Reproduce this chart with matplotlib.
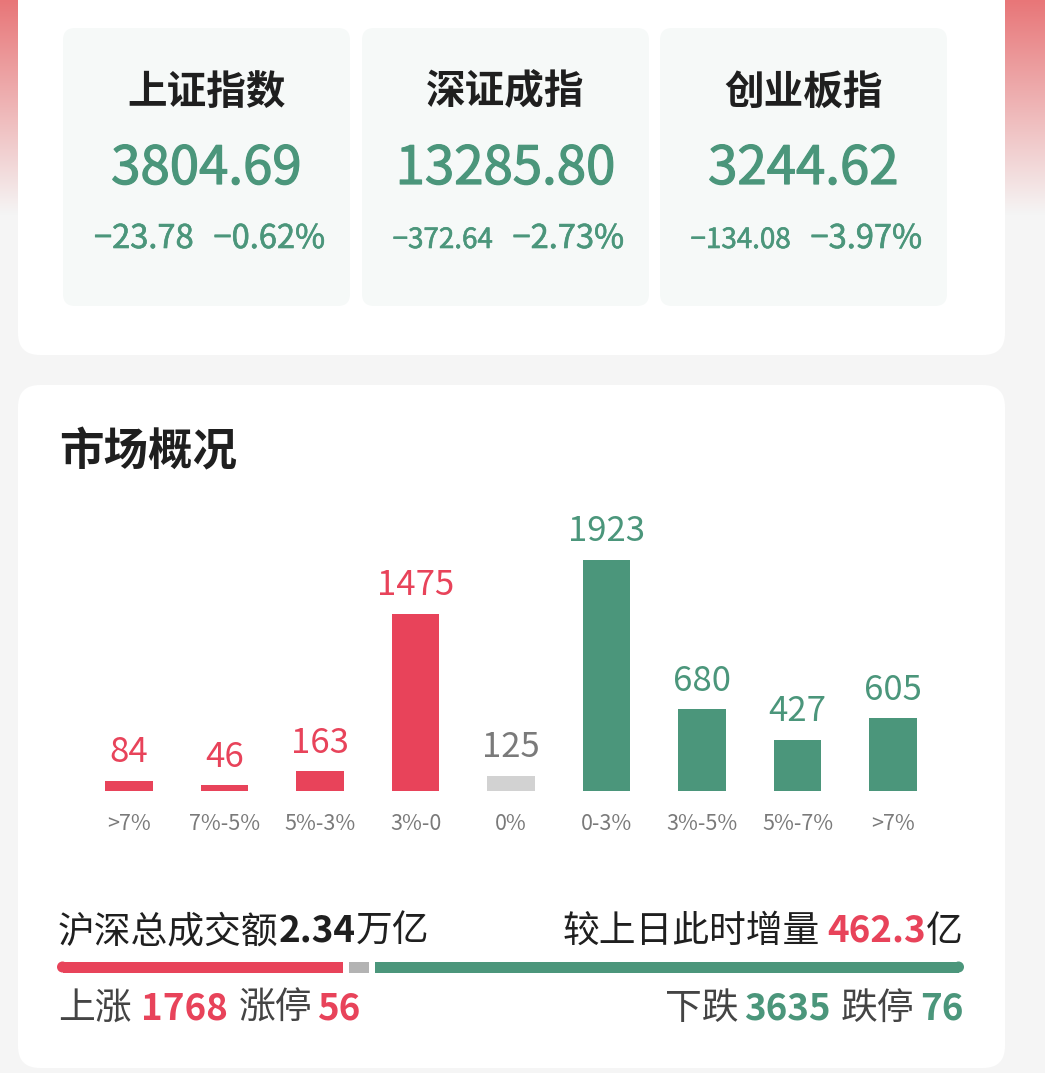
import matplotlib
matplotlib.use('Agg')
import matplotlib.pyplot as plt
from matplotlib.patches import FancyBboxPatch, Rectangle, Circle
import matplotlib.patheffects as pe
import numpy as np

plt.rcParams['font.family'] = ['Noto Sans CJK SC', 'DejaVu Sans']

# ---------------- data ----------------
index_names = ['上证指数', '深证成指', '创业板指']
index_values = ['3804.69', '13285.80', '3244.62']
index_changes = ['−23.78', '−372.64', '−134.08']
index_pcts = ['−0.62%', '−2.73%', '−3.97%']

categories = ['>7%', '7%-5%', '5%-3%', '3%-0', '0%', '0-3%', '3%-5%', '5%-7%', '>7%']
counts = [84, 46, 163, 1475, 125, 1923, 680, 427, 605]
kinds = ['up', 'up', 'up', 'up', 'flat', 'down', 'down', 'down', 'down']

turnover = '2.34'
increase = '462.3'
up_total = 1768
limit_up = 56
flat_total = 125
down_total = 3635
limit_down = 76

# ---------------- style ----------------
W, H, DPI = 1045, 1073, 100
RED = '#e8435a'
GREEN = '#4b967b'
GRAY_BAR = '#d2d2d2'
GRAY_TXT = '#7a7a7a'
DARK = '#1f1f1f'
BG = '#f5f5f5'
color_map = {'up': RED, 'flat': GRAY_BAR, 'down': GREEN}
label_color = {'up': RED, 'flat': GRAY_TXT, 'down': GREEN}
thick = [pe.withStroke(linewidth=0.9, foreground=GREEN)]
thin = [pe.withStroke(linewidth=0.45, foreground=GREEN)]

fig = plt.figure(figsize=(W / DPI, H / DPI), dpi=DPI)
fig.patch.set_facecolor(BG)
bg = fig.add_axes([0, 0, 1, 1])
bg.set_xlim(0, W)
bg.set_ylim(H, 0)
bg.axis('off')

# top gradient
top_c = np.array([232, 118, 120]) / 255
bot_c = np.array([245, 245, 245]) / 255
n = 256
t = np.linspace(0, 1, n)[:, None]
grad = top_c * (1 - t) + bot_c * t
grad = grad[:, None, :]
bg.imshow(grad, extent=(0, W, 215, 0), aspect='auto', origin='upper', zorder=0)

# cards
bg.add_patch(FancyBboxPatch((18, -40), 987, 395, boxstyle='round,pad=0,rounding_size=22',
                            fc='white', ec='none', zorder=1))
bg.add_patch(FancyBboxPatch((18, 385), 987, 683, boxstyle='round,pad=0,rounding_size=22',
                            fc='white', ec='none', zorder=1))

# index boxes
box_x = [63, 362, 660]
box_w = 287
for i in range(3):
    x0 = box_x[i]
    cx = x0 + box_w / 2
    bg.add_patch(FancyBboxPatch((x0, 28), box_w, 278, boxstyle='round,pad=0,rounding_size=12',
                                fc='#f6f9f8', ec='none', zorder=2))
    bg.text(cx, 92, index_names[i], fontsize=28.5, fontweight='bold', color=DARK,
            ha='center', va='center', zorder=3)
    bg.text(cx, 184, index_values[i], fontsize=38, color=GREEN,
            ha='center', va='baseline', zorder=3, path_effects=thick)
    fs_chg = 23.5 if len(index_changes[i]) <= 6 else 20
    bg.text(cx - 13, 248, index_changes[i], fontsize=fs_chg, color=GREEN,
            ha='right', va='baseline', zorder=3, path_effects=thin)
    bg.text(cx + 7, 248, index_pcts[i], fontsize=23.5, color=GREEN,
            ha='left', va='baseline', zorder=3, path_effects=thin)

# section title
bg.text(59, 452, '市场概况', fontsize=32, fontweight='bold', color=DARK,
        ha='left', va='center', zorder=3)

# ---------------- bar chart ----------------
spacing = 95.5
left_px = 129 - spacing / 2
base_px = 791
ax_h_px = 300
px_per_unit = 231 / 1923
ax = fig.add_axes([left_px / W, (H - base_px) / H, 9 * spacing / W, ax_h_px / H])
ax.set_xlim(-0.5, 8.5)
ax.set_ylim(0, ax_h_px / px_per_unit)
ax.axis('off')
ax.patch.set_alpha(0)
xs = np.arange(len(counts))
ax.bar(xs, counts, width=0.5, color=[color_map[k] for k in kinds], zorder=3)
for i, v in enumerate(counts):
    ax.annotate(str(v), (i, v), xytext=(0, 13.5), textcoords='offset points',
                ha='center', va='baseline', fontsize=25, color=label_color[kinds[i]])
    ax.annotate(categories[i], (i, 0), xytext=(0, -23.5), textcoords='offset points',
                ha='center', va='center', fontsize=15.5, color=GRAY_TXT)

# ---------------- rich text helper ----------------
renderer = fig.canvas.get_renderer()


def rich(x, y, parts, ha='left', fs=26.5):
    widths = []
    for p in parts:
        if isinstance(p, (int, float)):
            widths.append(p)
            continue
        s, c, w = p
        tt = bg.text(0, 0, s, fontsize=fs, color=c, fontweight=w)
        widths.append(tt.get_window_extent(renderer=renderer).width)
        tt.remove()
    total = sum(widths)
    cur = x if ha == 'left' else x - total
    for p, wd in zip(parts, widths):
        if not isinstance(p, (int, float)):
            s, c, w = p
            bg.text(cur, y, s, fontsize=fs, color=c, fontweight=w,
                    ha='left', va='baseline', zorder=4)
        cur += wd


rich(58, 942, [('沪深总成交额', DARK, 'normal'), (turnover, DARK, 'bold'), ('万亿', DARK, 'normal')])
rich(963, 942, [('较上日此时增量', DARK, 'normal'), 8, (increase, RED, 'bold'), ('亿', DARK, 'normal')], ha='right')

rich(58, 1019, [('上涨', '#444444', 'normal'), 9, (str(up_total), RED, 'bold'), 11,
                ('涨停', '#444444', 'normal'), 5, (str(limit_up), RED, 'bold')])
rich(963, 1019, [('下跌', '#444444', 'normal'), 5, (str(down_total), GREEN, 'bold'), 11,
                 ('跌停', '#444444', 'normal'), 5, (str(limit_down), GREEN, 'bold')], ha='right')

# ---------------- progress bar ----------------
bx0, bx1 = 57, 964
by, bh = 967, 11
gap = 6
total = up_total + flat_total + down_total
avail = (bx1 - bx0) - 2 * gap
w_up = avail * up_total / total
w_flat = avail * flat_total / total
w_down = avail * down_total / total
r = bh / 2
# red (rounded outer end)
bg.add_patch(Rectangle((bx0 + r, by - r), w_up - r, bh, fc=RED, ec='none', zorder=3))
bg.add_patch(Circle((bx0 + r, by), r, fc=RED, ec='none', zorder=3))
# flat
xf = bx0 + w_up + gap
bg.add_patch(Rectangle((xf, by - r), w_flat, bh, fc='#b3b3b3', ec='none', zorder=3))
# green (rounded outer end)
xg = xf + w_flat + gap
bg.add_patch(Rectangle((xg, by - r), w_down - r, bh, fc=GREEN, ec='none', zorder=3))
bg.add_patch(Circle((xg + w_down - r, by), r, fc=GREEN, ec='none', zorder=3))

fig.savefig('out.png', dpi=DPI, facecolor=fig.get_facecolor())
